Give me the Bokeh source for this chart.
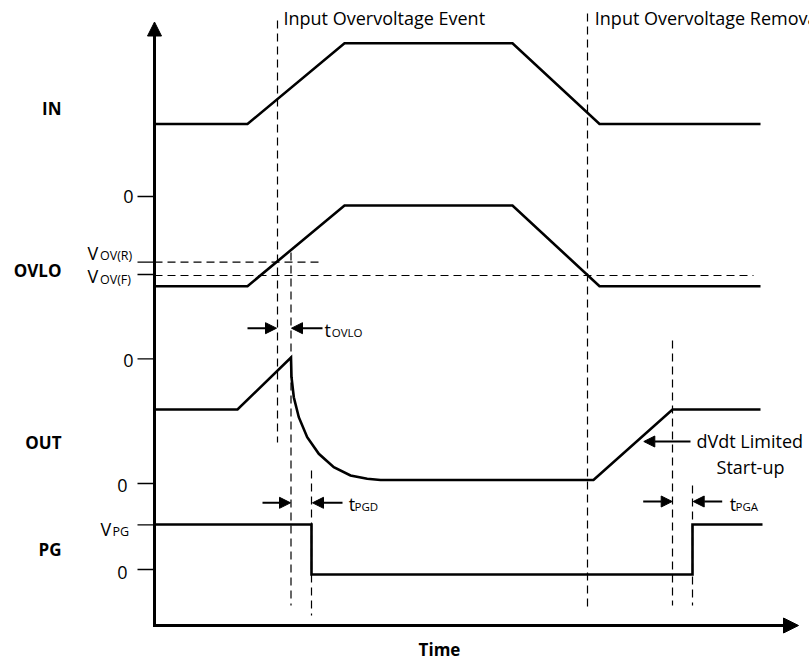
from bokeh.plotting import figure
from bokeh.models import Range1d, Arrow, NormalHead
from bokeh.core.properties import value
from bokeh.embed import file_html
from bokeh.resources import INLINE

FONT = "Open Sans"

# ---- waveform data (time units from the origin, level units upward) ----
in_t = [0, 93, 190, 358, 445, 606]
in_v = [536.5, 536.5, 617.3, 617.3, 536.5, 536.5]

ovlo_t = [0, 93, 190, 358, 445, 606]
ovlo_v = [374.3, 374.3, 455, 455, 374.3, 374.3]

out_t = [0, 83, 136.5, 137, 139.3, 144.3, 152.7, 164.3, 179.3, 196, 212.7, 226, 439, 518, 606]
out_v = [251, 251, 303, 283.3, 263.3, 243.3, 223.3, 206.7, 193.3, 185, 181.7, 180.5, 180.5, 251, 251]

pg_t = [0, 157, 157, 538, 538, 608]
pg_v = [136, 136, 86, 86, 136, 136]

# event markers (vertical dashed): time, top, bottom
mark_t = [123, 136.5, 157, 433, 518, 538]
mark_top = [640, 408, 190, 647, 320, 175]
mark_bot = [218, 55, 45, 52, 55, 55]

# thresholds (horizontal dashed): level, end time
thr_v = [398.3, 385]
thr_end = [164, 599]

# axis ticks levels
tick_v = [464, 398.3, 386, 301.7, 177, 135.7, 91]

# signal names
sig_names = ["IN", "OVLO", "OUT", "PG"]
sig_name_y = [552.2, 389.8, 218.2, 111.5]

# zero tick labels
zero_t = [-21, -21, -27, -27]
zero_y = [464.5, 299.8, 175.5, 88.2]

# threshold / level labels (main, subscript)
lvl_main = ["V", "V", "V"]
lvl_sub = ["OV(R)", "OV(F)", "PG"]
lvl_main_t = [-67, -67, -54]
lvl_main_y = [408, 384.8, 131.5]
lvl_sub_t = [-54.5, -54.5, -42]
lvl_sub_y = [405.3, 381, 129]

# timing parameter labels
tp_sub = ["OVLO", "PGD", "PGA"]
tp_t = [170, 194.3, 575.3]
tp_y = [330.5, 156.5, 156.5]
tp_sub_t = [177.2, 200, 581]
tp_sub_y = [328.3, 154, 154]

# dimension arrows: (x_start, x_end, level)
dim_arrows = [(93, 122, 332.3), (168, 137, 332.3),
              (108, 136, 157.7), (188, 158, 157.7),
              (488.7, 517.7, 159), (567.7, 538.7, 159),
              (536, 489.3, 219)]

p = figure(width=809, height=660, x_range=Range1d(-154, 655), y_range=Range1d(0, 660),
           output_backend="svg", toolbar_location=None,
           x_axis_location=None, y_axis_location=None, min_border=0)
p.outline_line_color = None
p.grid.visible = False
p.background_fill_color = "white"
p.border_fill_color = "white"

LW = 2.6
for tt, vv in [(in_t, in_v), (ovlo_t, ovlo_v), (out_t, out_v), (pg_t, pg_v)]:
    p.line(tt, vv, line_color="black", line_width=LW, line_join="miter")

# dashed event markers
p.segment(x0=mark_t, y0=mark_top, x1=mark_t, y1=mark_bot,
          line_color="black", line_width=1.2, line_dash="8 5")
# threshold lines
p.segment(x0=[0] * len(thr_v), y0=thr_v, x1=thr_end, y1=thr_v,
          line_color="black", line_width=1.2, line_dash="8 5")
# ticks
p.segment(x0=[-17] * len(tick_v), y0=tick_v, x1=[0] * len(tick_v), y1=tick_v,
          line_color="black", line_width=1.3)

# axes with arrows
p.add_layout(Arrow(x_start=0, y_start=35, x_end=0, y_end=638.5, line_width=3,
                   end=NormalHead(size=14, fill_color="black", line_color="black", line_width=1)))
p.add_layout(Arrow(x_start=-1.5, y_start=35, x_end=644, y_end=35, line_width=3,
                   end=NormalHead(size=15, fill_color="black", line_color="black", line_width=1)))

for xs, xe, yy in dim_arrows:
    p.add_layout(Arrow(x_start=xs, y_start=yy, x_end=xe, y_end=yy, line_width=2,
                       end=NormalHead(size=11, fill_color="black", line_color="black", line_width=1)))

# signal names
p.text(x=[-93] * 4, y=sig_name_y, text=sig_names, text_font=value(FONT),
       text_font_size="17px", text_font_style="bold", text_align="right",
       text_baseline="alphabetic", text_color="black")
# zero labels
p.text(x=zero_t, y=zero_y, text=["0"] * 4, text_font=value(FONT), text_font_size="18px",
       text_align="right", text_baseline="alphabetic", text_color="black")
# level labels
p.text(x=lvl_main_t, y=lvl_main_y, text=lvl_main, text_font=value(FONT), text_font_size="18px",
       text_align="left", text_baseline="alphabetic", text_color="black")
p.text(x=lvl_sub_t, y=lvl_sub_y, text=lvl_sub, text_font=value(FONT), text_font_size="12.5px",
       text_align="left", text_baseline="alphabetic", text_color="black")
# timing labels
p.text(x=tp_t, y=tp_y, text=["t"] * 3, text_font=value(FONT), text_font_size="18px",
       text_align="left", text_baseline="alphabetic", text_color="black")
p.text(x=tp_sub_t, y=tp_sub_y, text=tp_sub, text_font=value(FONT), text_font_size="11.5px",
       text_align="left", text_baseline="alphabetic", text_color="black")
# event labels
p.text(x=[129, 440.3], y=[642.2, 642.2], text=["Input Overvoltage Event", "Input Overvoltage Removal"],
       text_font=value(FONT), text_font_size="18px", text_align="left",
       text_baseline="alphabetic", text_color="black")
p.text(x=[542], y=[219.5], text=["dVdt Limited"], text_font=value(FONT), text_font_size="18px",
       text_align="left", text_baseline="alphabetic", text_color="black")
p.text(x=[596], y=[193.2], text=["Start-up"], text_font=value(FONT), text_font_size="18px",
       text_align="center", text_baseline="alphabetic", text_color="black")
p.text(x=[285], y=[11.5], text=["Time"], text_font=value(FONT), text_font_size="17px",
       text_font_style="bold", text_align="center", text_baseline="alphabetic", text_color="black")

open("out.html", "w").write(file_html(p, INLINE))
